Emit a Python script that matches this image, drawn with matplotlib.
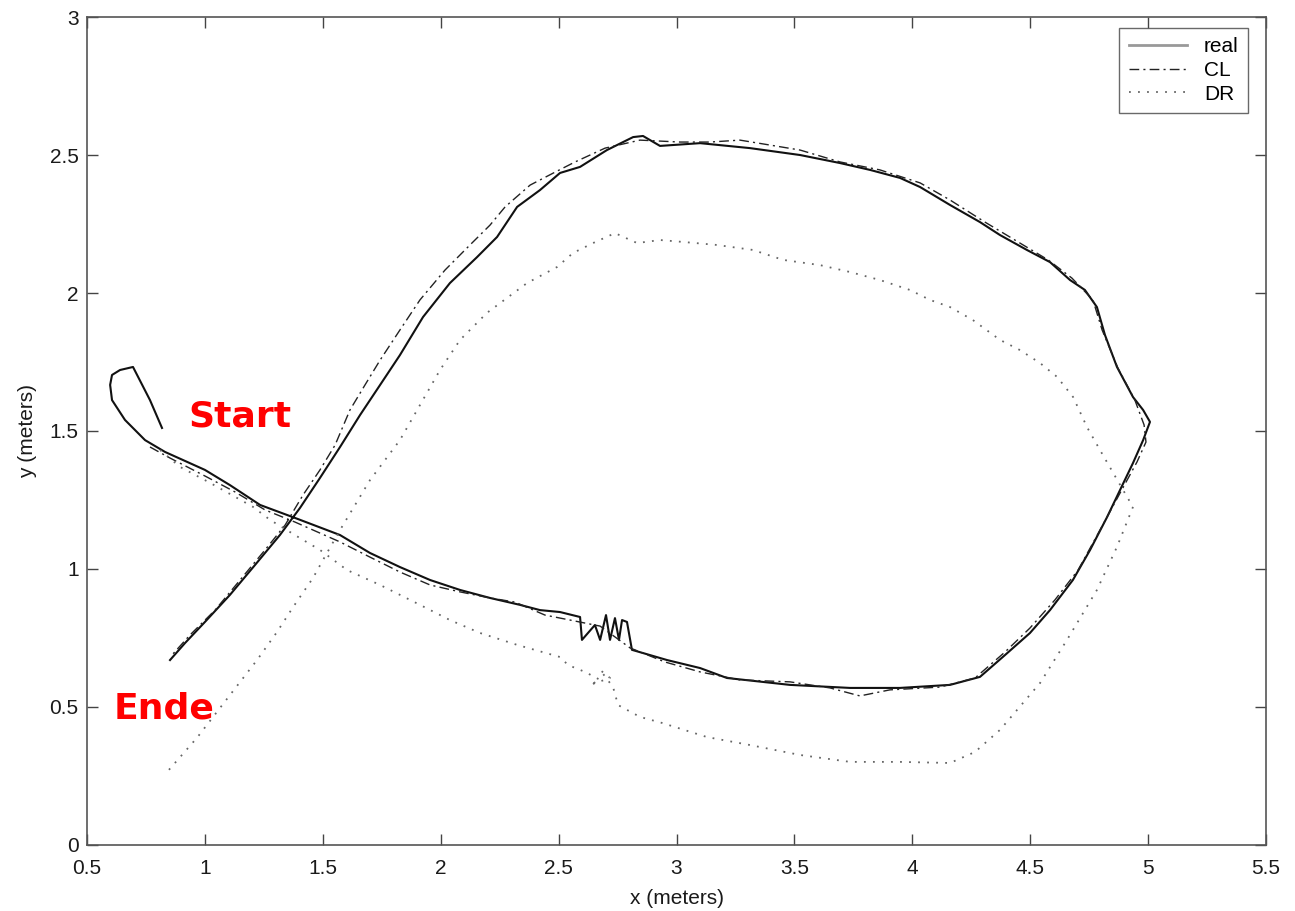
import numpy as np
import matplotlib
matplotlib.use('Agg')
import matplotlib.pyplot as plt

# real trajectory (x, y in meters)
real_x = [0.818, 0.767, 0.695, 0.640, 0.606, 0.598, 0.606, 0.661, 0.746, 0.831,
          1.000, 1.106, 1.234, 1.382, 1.573, 1.700, 1.827, 1.955, 2.082, 2.209,
          2.336, 2.421, 2.506, 2.591, 2.599, 2.654, 2.676, 2.701, 2.718, 2.739,
          2.756, 2.769, 2.790, 2.811, 2.960, 3.100, 3.214, 3.481, 3.736, 3.948,
          4.160, 4.287, 4.393, 4.499, 4.584, 4.681, 4.754, 4.826, 4.881, 4.936,
          4.979, 5.008, 4.979, 4.936, 4.868, 4.817, 4.783, 4.732, 4.669, 4.584,
          4.486, 4.372, 4.287, 4.160, 4.033, 3.948, 3.821, 3.693, 3.524, 3.312,
          3.100, 2.930, 2.858, 2.816, 2.705, 2.591, 2.506, 2.421, 2.324, 2.239,
          2.154, 2.039, 1.925, 1.827, 1.743, 1.658, 1.573, 1.488, 1.403, 1.318,
          1.212, 1.106, 1.000, 0.916, 0.852]
real_y = [1.511, 1.612, 1.732, 1.721, 1.703, 1.667, 1.612, 1.540, 1.467, 1.424,
          1.359, 1.304, 1.232, 1.185, 1.123, 1.058, 1.007, 0.960, 0.924, 0.895,
          0.870, 0.851, 0.844, 0.826, 0.743, 0.797, 0.743, 0.833, 0.743, 0.822,
          0.743, 0.815, 0.808, 0.707, 0.670, 0.641, 0.605, 0.580, 0.569, 0.569,
          0.580, 0.609, 0.688, 0.768, 0.851, 0.960, 1.069, 1.188, 1.286, 1.384,
          1.467, 1.533, 1.576, 1.623, 1.732, 1.848, 1.949, 2.011, 2.047, 2.112,
          2.156, 2.210, 2.257, 2.319, 2.384, 2.417, 2.446, 2.471, 2.500, 2.525,
          2.543, 2.533, 2.569, 2.565, 2.518, 2.457, 2.435, 2.373, 2.312, 2.203,
          2.130, 2.036, 1.913, 1.775, 1.667, 1.558, 1.442, 1.330, 1.221, 1.123,
          1.014, 0.906, 0.808, 0.732, 0.670]

# CL estimate
cl_x = [0.767, 0.852, 1.000, 1.128, 1.255, 1.382, 1.573, 1.700, 1.827, 1.955,
        2.082, 2.209, 2.315, 2.442, 2.548, 2.676, 2.803, 2.951, 3.100, 3.269,
        3.481, 3.651, 3.778, 3.905, 4.117, 4.266, 4.393, 4.499, 4.605, 4.703,
        4.796, 4.881, 4.953, 4.991, 4.983, 4.944, 4.872, 4.805, 4.766, 4.677,
        4.576, 4.478, 4.308, 4.160, 4.033, 3.863, 3.693, 3.524, 3.397, 3.269,
        3.142, 3.015, 2.845, 2.697, 2.570, 2.485, 2.379, 2.273, 2.209, 2.124,
        2.018, 1.912, 1.827, 1.743, 1.679, 1.615, 1.552, 1.488, 1.416, 1.340,
        1.255, 1.149, 1.043, 0.937, 0.860]
cl_y = [1.442, 1.402, 1.337, 1.279, 1.214, 1.170, 1.098, 1.043, 0.989, 0.942,
        0.917, 0.895, 0.880, 0.833, 0.815, 0.793, 0.714, 0.663, 0.627, 0.598,
        0.591, 0.569, 0.540, 0.562, 0.572, 0.605, 0.699, 0.786, 0.888, 0.996,
        1.141, 1.275, 1.388, 1.460, 1.522, 1.612, 1.728, 1.866, 1.975, 2.054,
        2.120, 2.170, 2.257, 2.337, 2.399, 2.446, 2.475, 2.518, 2.536, 2.554,
        2.547, 2.547, 2.554, 2.525, 2.475, 2.438, 2.391, 2.312, 2.246, 2.174,
        2.083, 1.975, 1.866, 1.757, 1.667, 1.576, 1.449, 1.359, 1.268, 1.159,
        1.069, 0.960, 0.851, 0.761, 0.688]

# DR (dead reckoning)
dr_x = [0.810, 0.894, 1.022, 1.204, 1.276, 1.403, 1.488, 1.603, 1.743, 1.912,
        2.039, 2.167, 2.324, 2.506, 2.540, 2.612, 2.676, 2.633, 2.718, 2.676,
        2.731, 2.752, 2.845, 2.939, 3.129, 3.312, 3.524, 3.736, 3.948, 4.160,
        4.266, 4.372, 4.542, 4.656, 4.783, 4.868, 4.936, 4.911, 4.852, 4.796,
        4.741, 4.682, 4.614, 4.542, 4.457, 4.372, 4.257, 4.160, 4.075, 3.990,
        3.863, 3.736, 3.609, 3.452, 3.324, 3.172, 3.028, 2.930, 2.833, 2.739,
        2.646, 2.561, 2.493, 2.366, 2.196, 2.082, 1.997, 1.912, 1.827, 1.700,
        1.573, 1.501, 1.458, 1.374, 1.306, 1.221, 1.106, 0.966, 0.839]
dr_y = [1.431, 1.370, 1.312, 1.225, 1.178, 1.112, 1.069, 0.996, 0.942, 0.870,
        0.815, 0.768, 0.725, 0.681, 0.652, 0.627, 0.598, 0.580, 0.605, 0.634,
        0.572, 0.507, 0.464, 0.442, 0.391, 0.362, 0.326, 0.301, 0.301, 0.297,
        0.337, 0.417, 0.587, 0.743, 0.924, 1.080, 1.225, 1.261, 1.348, 1.431,
        1.514, 1.623, 1.696, 1.746, 1.793, 1.830, 1.902, 1.949, 1.975, 2.011,
        2.047, 2.076, 2.101, 2.120, 2.156, 2.174, 2.185, 2.192, 2.181, 2.217,
        2.181, 2.145, 2.094, 2.036, 1.928, 1.830, 1.721, 1.594, 1.467, 1.322,
        1.141, 1.033, 0.967, 0.862, 0.772, 0.670, 0.543, 0.388, 0.264]

x_ticks = [0.5, 1, 1.5, 2, 2.5, 3, 3.5, 4, 4.5, 5, 5.5]
x_ticklabels = ['0.5', '1', '1.5', '2', '2.5', '3', '3.5', '4', '4.5', '5', '5.5']
y_ticks = [0, 0.5, 1, 1.5, 2, 2.5, 3]
y_ticklabels = ['0', '0.5', '1', '1.5', '2', '2.5', '3']

plt.rcParams['font.family'] = ['Liberation Sans', 'DejaVu Sans']

fig = plt.figure(figsize=(12.95, 9.11), dpi=100)
ax = fig.add_axes([0.0672, 0.0725, 0.9104, 0.9088])

ax.plot(real_x, real_y, color='#111111', lw=1.5, label='real')
ax.plot(cl_x, cl_y, color='#222222', lw=1.0, linestyle=(0, (7, 3, 1.5, 3)), label='CL')
ax.plot(dr_x, dr_y, color='#666666', lw=1.3, linestyle=(0, (1, 4)), label='DR')

ax.set_xlim(0.5, 5.5)
ax.set_ylim(0, 3)
ax.set_xticks(x_ticks)
ax.set_xticklabels(x_ticklabels)
ax.set_yticks(y_ticks)
ax.set_yticklabels(y_ticklabels)
ax.tick_params(direction='in', length=8, width=1, colors='#444444',
               labelcolor='#1a1a1a', labelsize=15, top=True, right=True)
ax.tick_params(axis='x', pad=10)
ax.tick_params(axis='y', pad=6)
for sp in ax.spines.values():
    sp.set_color('#555555')
    sp.set_linewidth(1.2)

ax.set_xlabel('x (meters)', fontsize=15, color='#1a1a1a', labelpad=8)
ax.set_ylabel('y (meters)', fontsize=15, color='#1a1a1a', labelpad=9)

ax.text(1.149, 1.551, 'Start', color='red', fontsize=26, fontweight='bold',
        family='DejaVu Sans', ha='center', va='center')
ax.text(0.827, 0.496, 'Ende', color='red', fontsize=26, fontweight='bold',
        family='DejaVu Sans', ha='center', va='center')

leg = ax.legend(loc='upper right', bbox_to_anchor=(0.9847, 0.9867),
                fontsize=15, frameon=True, fancybox=False,
                handlelength=2.8, borderaxespad=0, labelspacing=0.22,
                handletextpad=0.8, borderpad=0.45)
leg.get_frame().set_edgecolor('#444444')
leg.get_frame().set_linewidth(1.0)
leg.get_lines()[0].set_color('#999999')
leg.get_lines()[0].set_linewidth(2.0)

fig.savefig('out.png', dpi=100)
